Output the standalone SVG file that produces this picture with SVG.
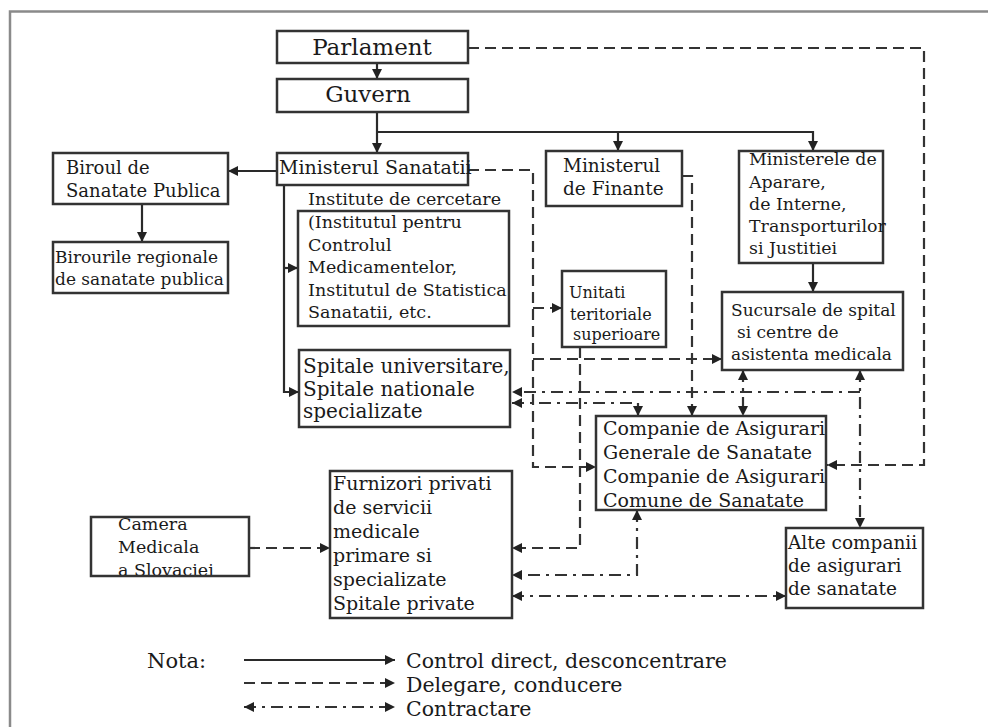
<svg xmlns="http://www.w3.org/2000/svg" width="988" height="727" viewBox="0 0 988 727">
<style>
.box{fill:#fff;stroke:#333;stroke-width:2.5}
.t{font-family:"DejaVu Serif","Liberation Serif",serif;fill:#1a1a1a}
.s{fill:none;stroke:#2a2a2a;stroke-width:2.2}
.d{fill:none;stroke:#333;stroke-width:2.2;stroke-dasharray:11,6}
.dd{fill:none;stroke:#333;stroke-width:2.2;stroke-dasharray:12,6,3,6}
</style>
<defs>
<marker id="ah" viewBox="0 0 10 10" refX="10" refY="5" markerWidth="10" markerHeight="11" markerUnits="userSpaceOnUse" orient="auto-start-reverse">
<path d="M0,0 L10,5 L0,10 z" fill="#222"/>
</marker>
</defs>
<rect width="988" height="727" fill="#fff"/>
<path d="M10,727 V11.5 H988" fill="none" stroke="#8a8a8a" stroke-width="2.5"/>

<g id="connectors">
<path class="s" d="M377,63 V79" marker-end="url(#ah)"/>
<path class="s" d="M377,112 V153" marker-end="url(#ah)"/>
<path class="s" d="M377,132 H813 V151" marker-end="url(#ah)"/>
<path class="s" d="M618,132 V151" marker-end="url(#ah)"/>
<path class="s" d="M277,171 H228" marker-end="url(#ah)"/>
<path class="s" d="M142,204 V242" marker-end="url(#ah)"/>
<path class="s" d="M284,185 V392 H299" marker-end="url(#ah)"/>
<path class="s" d="M284,268 H298" marker-end="url(#ah)"/>
<path class="s" d="M813,263 V292" marker-end="url(#ah)"/>

<path class="d" d="M468,48 H924 V465 H827" marker-end="url(#ah)"/>
<path class="d" d="M468,170 H533 V467 H596" marker-end="url(#ah)"/>
<path class="d" d="M533,308 H562" marker-end="url(#ah)"/>
<path class="d" d="M533,359 H722" marker-end="url(#ah)"/>
<path class="d" d="M682,176 H692 V416" marker-end="url(#ah)"/>
<path class="d" d="M580,347 V548 H512" marker-end="url(#ah)"/>
<path class="d" d="M249,548 H330" marker-end="url(#ah)"/>

<path class="dd" d="M743,370 V416" marker-start="url(#ah)" marker-end="url(#ah)"/>
<path class="dd" d="M860,370 V528" marker-start="url(#ah)" marker-end="url(#ah)"/>
<path class="dd" d="M860,392 H512" marker-end="url(#ah)"/>
<path class="dd" d="M512,403 H638 V416" marker-start="url(#ah)" marker-end="url(#ah)"/>
<path class="dd" d="M637,510 V575 H512" marker-start="url(#ah)" marker-end="url(#ah)"/>
<path class="dd" d="M512,596 H786" marker-start="url(#ah)" marker-end="url(#ah)"/>
</g>

<g id="parlament">
<rect class="box" x="277" y="31" width="191" height="32"/>
<text class="t" x="372" y="55" font-size="23" text-anchor="middle">Parlament</text>
</g>
<g id="guvern">
<rect class="box" x="277" y="79" width="191" height="33"/>
<text class="t" x="368" y="102" font-size="23" text-anchor="middle">Guvern</text>
</g>
<g id="ministerul-sanatatii">
<rect class="box" x="277" y="153" width="191" height="32"/>
<text class="t" x="279" y="174" font-size="19">Ministerul Sanatatii</text>
</g>
<g id="biroul">
<rect class="box" x="53" y="153" width="175" height="51"/>
<text class="t" font-size="18"><tspan x="66" y="174">Biroul de</tspan><tspan x="66" y="197">Sanatate Publica</tspan></text>
</g>
<g id="birourile">
<rect class="box" x="53" y="242" width="175" height="51"/>
<text class="t" font-size="17"><tspan x="55" y="263">Birourile regionale</tspan><tspan x="55" y="285">de sanatate publica</tspan></text>
</g>
<g id="institute">
<text class="t" x="308" y="205" font-size="17.5">Institute de cercetare</text>
<rect class="box" x="298" y="211" width="211" height="115"/>
<text class="t" font-size="17.5"><tspan x="308" y="228">(Institutul pentru</tspan><tspan x="308" y="251">Controlul</tspan><tspan x="308" y="273">Medicamentelor,</tspan><tspan x="308" y="296">Institutul de Statistica</tspan><tspan x="308" y="318">Sanatatii, etc.</tspan></text>
</g>
<g id="spitale-universitare">
<rect class="box" x="299" y="350" width="211" height="77"/>
<text class="t" font-size="20"><tspan x="303" y="373">Spitale universitare,</tspan><tspan x="303" y="396">Spitale nationale</tspan><tspan x="303" y="418">specializate</tspan></text>
</g>
<g id="ministerul-finante">
<rect class="box" x="546" y="151" width="136" height="55"/>
<text class="t" font-size="18.5"><tspan x="563" y="172">Ministerul</tspan><tspan x="563" y="195">de Finante</tspan></text>
</g>
<g id="ministerele">
<rect class="box" x="739" y="151" width="144" height="112"/>
<text class="t" font-size="17.4"><tspan x="749" y="165">Ministerele de</tspan><tspan x="749" y="188">Aparare,</tspan><tspan x="749" y="210">de Interne,</tspan><tspan x="749" y="232">Transporturilor</tspan><tspan x="749" y="254">si Justitiei</tspan></text>
</g>
<g id="unitati">
<rect class="box" x="562" y="271" width="104" height="76"/>
<text class="t" font-size="16"><tspan x="569" y="298">Unitati</tspan><tspan x="570" y="320">teritoriale</tspan><tspan x="573" y="340">superioare</tspan></text>
</g>
<g id="sucursale">
<rect class="box" x="722" y="292" width="181" height="78"/>
<text class="t" font-size="17"><tspan x="731" y="316">Sucursale de spital</tspan><tspan x="737" y="338">si centre de</tspan><tspan x="731" y="360">asistenta medicala</tspan></text>
</g>
<g id="companie">
<rect class="box" x="596" y="416" width="230" height="94"/>
<text class="t" font-size="19"><tspan x="603" y="435">Companie de Asigurari</tspan><tspan x="603" y="459">Generale de Sanatate</tspan><tspan x="603" y="483">Companie de Asigurari</tspan><tspan x="603" y="507">Comune de Sanatate</tspan></text>
</g>
<g id="alte-companii">
<rect class="box" x="786" y="528" width="137" height="80"/>
<text class="t" font-size="18.5"><tspan x="788" y="549">Alte companii</tspan><tspan x="788" y="572">de asigurari</tspan><tspan x="788" y="595">de sanatate</tspan></text>
</g>
<g id="furnizori">
<rect class="box" x="330" y="471" width="182" height="147"/>
<text class="t" font-size="19"><tspan x="333" y="490">Furnizori privati</tspan><tspan x="333" y="514">de servicii</tspan><tspan x="333" y="538">medicale</tspan><tspan x="333" y="562">primare si</tspan><tspan x="333" y="586">specializate</tspan><tspan x="333" y="610">Spitale private</tspan></text>
</g>
<g id="camera">
<text class="t" font-size="17.5"><tspan x="118" y="530">Camera</tspan><tspan x="118" y="553">Medicala</tspan><tspan x="118" y="576">a Slovaciei</tspan></text>
<rect x="91" y="517" width="158" height="59" fill="none" stroke="#333" stroke-width="2.5"/>
</g>

<g id="legend">
<text class="t" x="147" y="668" font-size="21">Nota:</text>
<path class="s" d="M244,660 H395" marker-end="url(#ah)"/>
<path class="d" d="M244,683 H395" marker-end="url(#ah)"/>
<path class="dd" d="M244,707 H395" marker-start="url(#ah)" marker-end="url(#ah)"/>
<text class="t" x="406" y="668" font-size="20.5">Control direct, desconcentrare</text>
<text class="t" x="406" y="692" font-size="20.5">Delegare, conducere</text>
<text class="t" x="406" y="716" font-size="20.5">Contractare</text>
</g>
</svg>
